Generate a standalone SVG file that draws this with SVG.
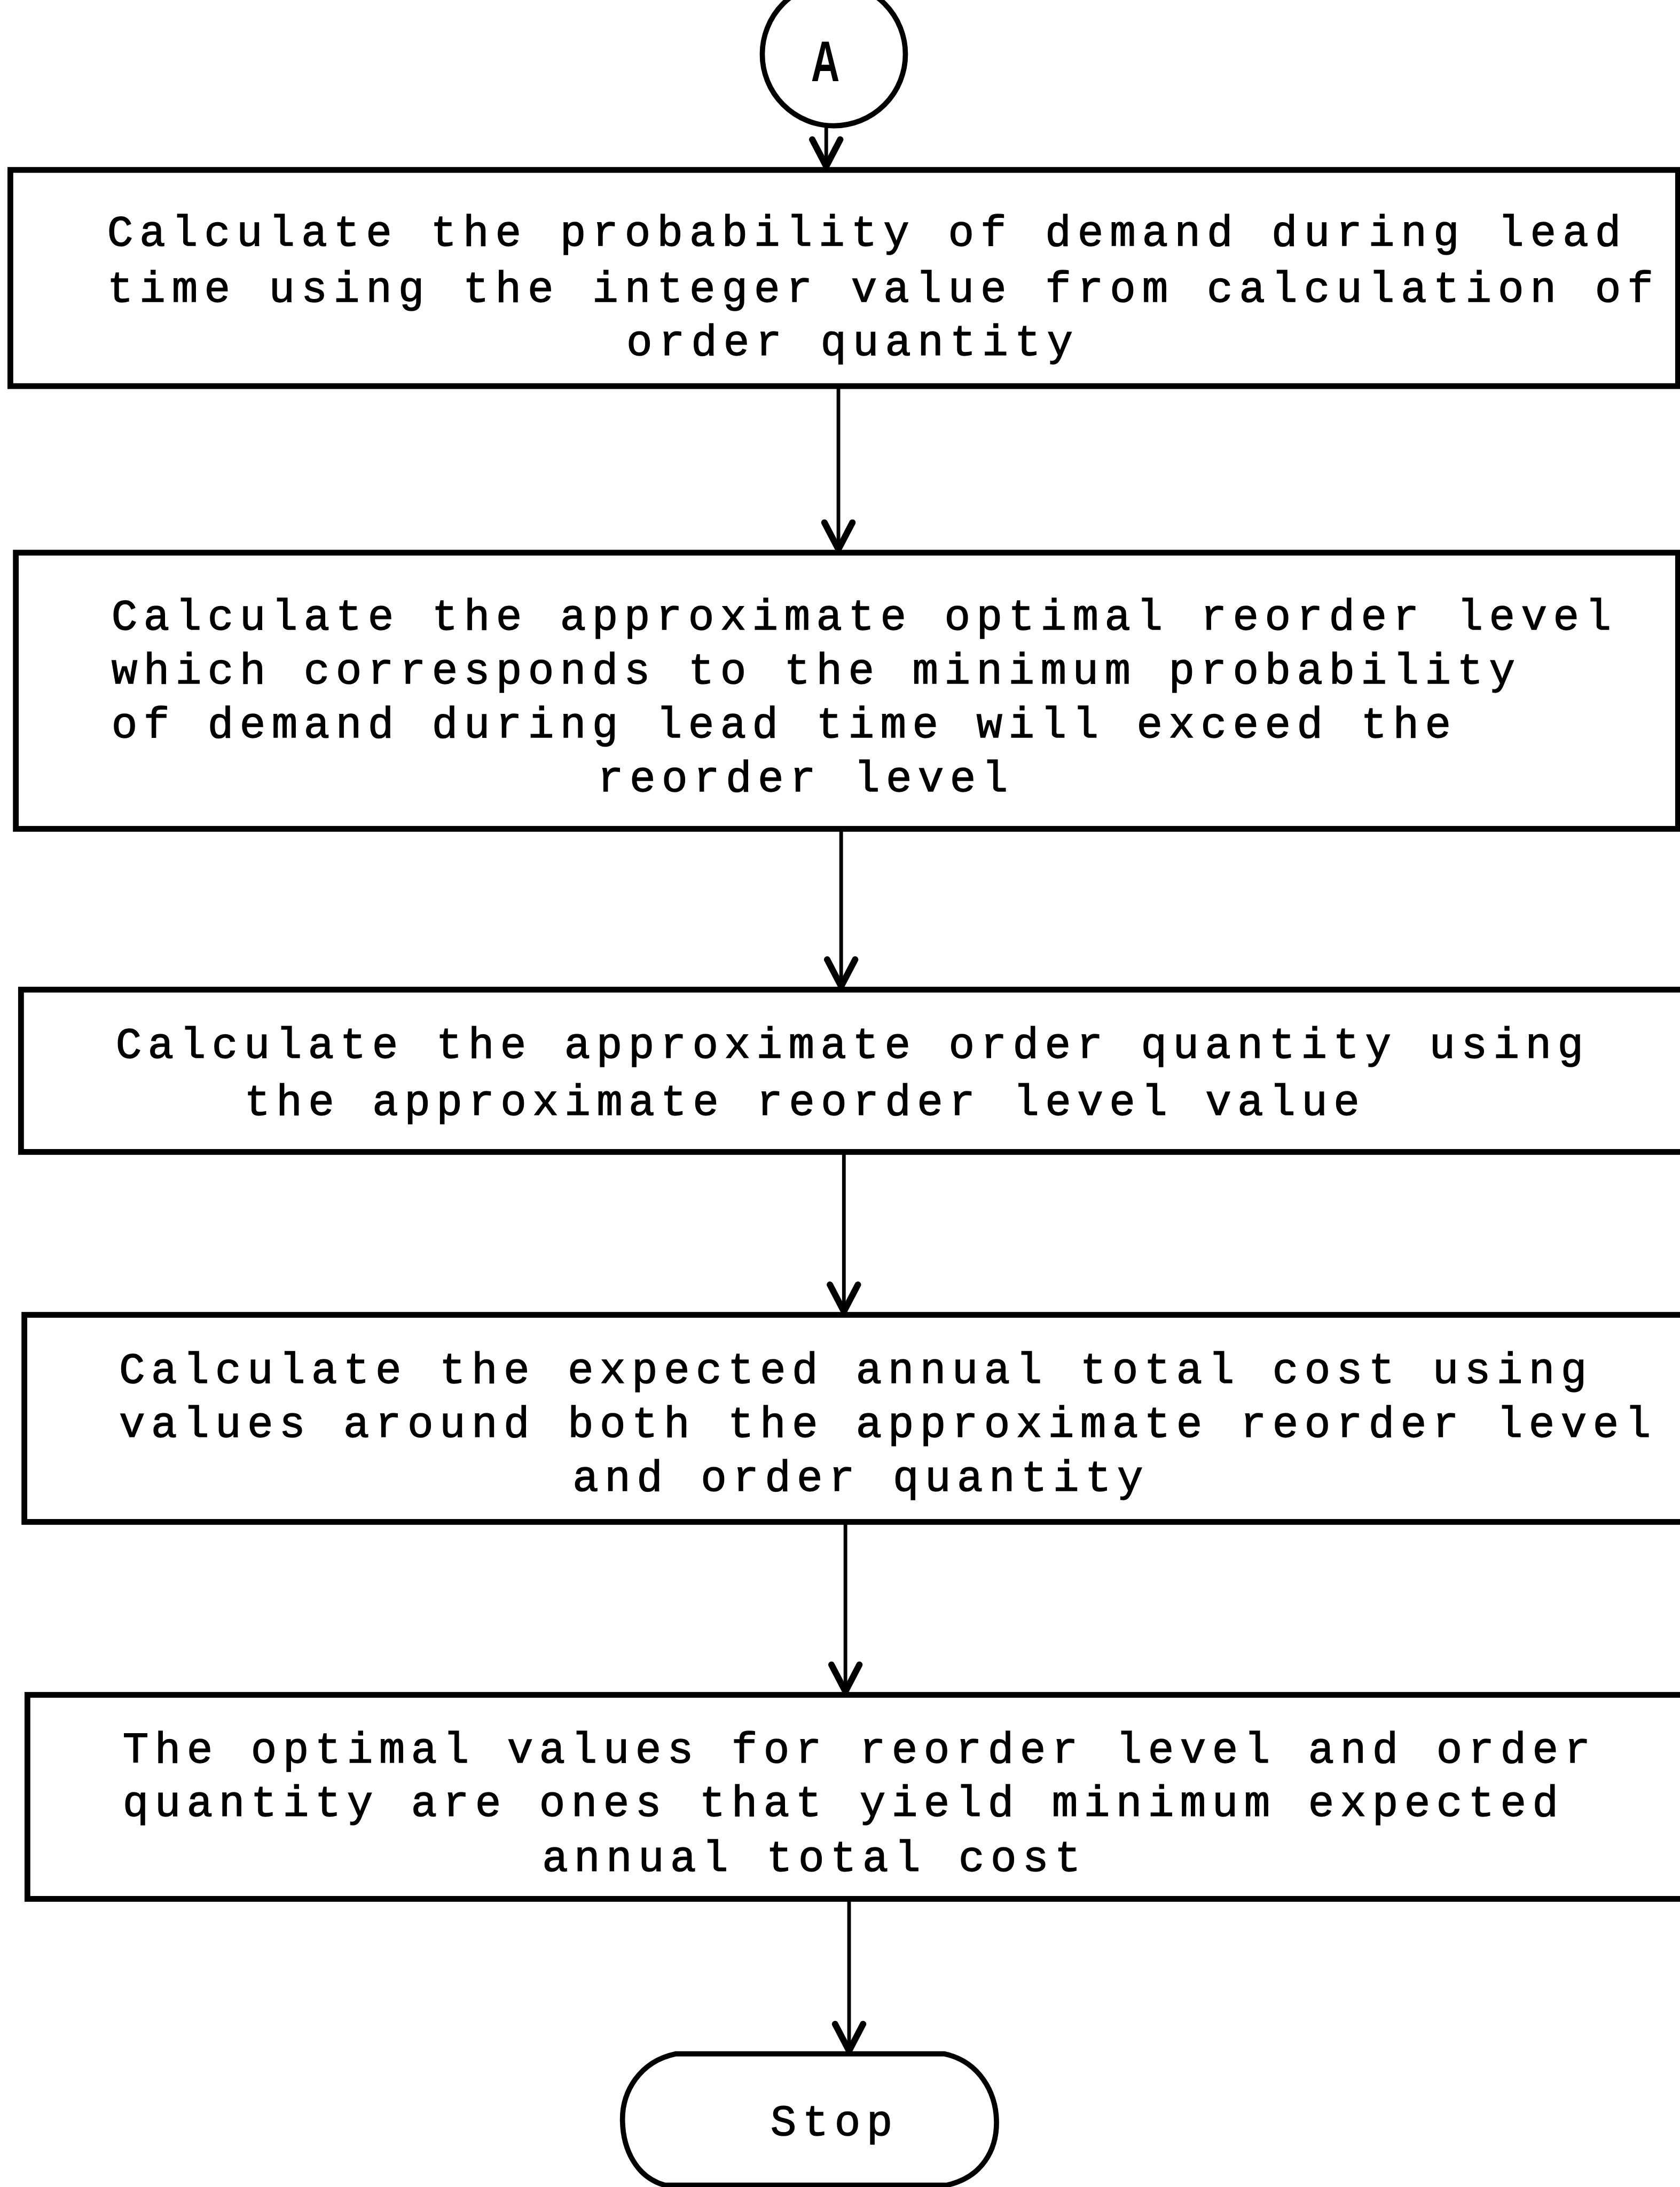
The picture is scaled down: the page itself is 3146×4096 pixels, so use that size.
<svg xmlns="http://www.w3.org/2000/svg" width="3146" height="4096" viewBox="0 0 3146 4096">
  <style>
    .box { fill: #fff; stroke: #000; stroke-width: 19; }
    .term { fill: #fff; stroke: #000; stroke-width: 17; }
    .t { font-family: "Liberation Mono", "Courier New", monospace; font-size: 142px; letter-spacing: 20px; fill: #000; stroke: #000; stroke-width: 2.5; }
    .wide { letter-spacing: 21px; }
    .lbl { font-family: "Liberation Sans", Arial, sans-serif; font-size: 187px; font-weight: bold; fill: #000; }
    .edge { stroke: #000; stroke-width: 12; fill: none; }
  </style>
  <defs>
    <marker id="arrow" markerUnits="userSpaceOnUse" orient="auto" refX="0" refY="0" markerWidth="1" markerHeight="1" overflow="visible">
      <path d="M -88 -46 L 0 0 L -88 46" fill="none" stroke="#000" stroke-width="21" stroke-linecap="round" stroke-linejoin="round"/>
    </marker>
  </defs>
  <rect width="3146" height="4096" fill="#fff"/>
  <!-- drawing laid out in 5516 x 7182 units, scaled to the page -->
  <g transform="scale(0.5703)">
    <g id="connectors">
      <line class="edge" x1="2713" y1="412" x2="2713" y2="546" marker-end="url(#arrow)"/>
      <line class="edge" x1="2753" y1="1270" x2="2753" y2="1804" marker-end="url(#arrow)"/>
      <line class="edge" x1="2762" y1="2724" x2="2762" y2="3239" marker-end="url(#arrow)"/>
      <line class="edge" x1="2771" y1="3785" x2="2771" y2="4307" marker-end="url(#arrow)"/>
      <line class="edge" x1="2776" y1="5000" x2="2776" y2="5555" marker-end="url(#arrow)"/>
      <line class="edge" x1="2788" y1="6238" x2="2788" y2="6735" marker-end="url(#arrow)"/>
    </g>

    <g id="connector-a">
      <circle class="term" cx="2738" cy="178" r="235"/>
      <text class="lbl" x="2663" y="267" textLength="94" lengthAdjust="spacingAndGlyphs">A</text>
    </g>

    <g id="step-1">
      <rect class="box" x="34" y="558" width="5476" height="710"/>
      <text class="t wide" x="352" y="806">Calculate the probability of demand during lead</text>
      <text class="t wide" x="352" y="990">time using the integer value from calculation of</text>
      <text class="t wide" x="2057" y="1166">order quantity</text>
    </g>

    <g id="step-2">
      <rect class="box" x="52" y="1815" width="5458" height="907"/>
      <text class="t" x="366" y="2068">Calculate the approximate optimal reorder level</text>
      <text class="t" x="366" y="2245">which corresponds to the minimum probability</text>
      <text class="t" x="366" y="2422">of demand during lead time will exceed the</text>
      <text class="t" x="1962" y="2598">reorder level</text>
    </g>

    <g id="step-3">
      <rect class="box" x="69" y="3250" width="5460" height="533"/>
      <text class="t" x="380" y="3473">Calculate the approximate order quantity using</text>
      <text class="t" x="802" y="3662">the approximate reorder level value</text>
    </g>

    <g id="step-4">
      <rect class="box" x="80" y="4318" width="5450" height="680"/>
      <text class="t" x="391" y="4541">Calculate the expected annual total cost using</text>
      <text class="t" x="391" y="4718">values around both the approximate reorder level</text>
      <text class="t" x="1880" y="4895">and order quantity</text>
    </g>

    <g id="step-5">
      <rect class="box" x="90" y="5566" width="5440" height="670"/>
      <text class="t" x="403" y="5788">The optimal values for reorder level and order</text>
      <text class="t" x="403" y="5964">quantity are ones that yield minimum expected</text>
      <text class="t" x="1780" y="6145">annual total cost</text>
    </g>

    <g id="stop">
      <path class="term" d="M 2218 6745 L 3102 6745 C 3215 6770 3270 6870 3272 6965 C 3274 7060 3225 7150 3110 7176 L 2182 7176 C 2090 7150 2046 7060 2044 6965 C 2042 6870 2100 6770 2218 6745 Z"/>
      <text class="t" x="2530" y="7012">Stop</text>
    </g>
  </g>
</svg>
